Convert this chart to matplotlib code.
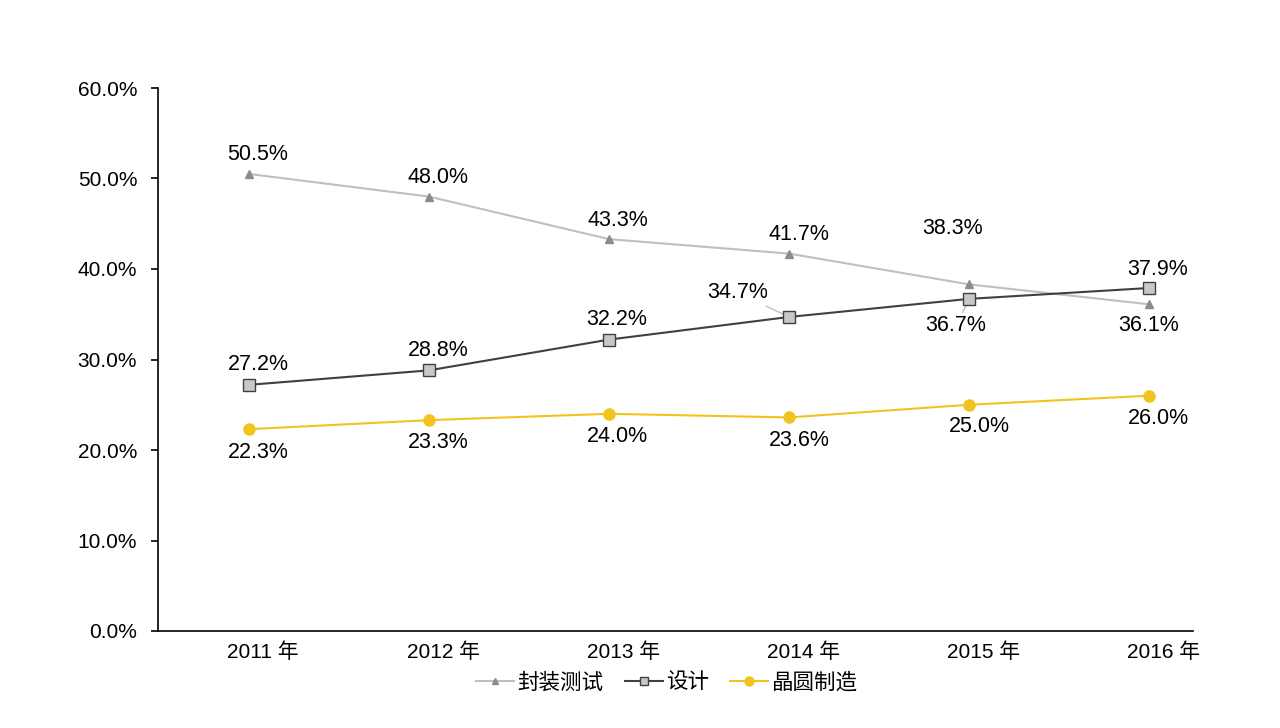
import matplotlib
matplotlib.use("Agg")
import matplotlib.pyplot as plt
import matplotlib.transforms as mtransforms
from matplotlib.ticker import FuncFormatter

plt.rcParams["font.family"] = ["Liberation Sans", "Noto Sans CJK SC"]

# %% Data

years = ["2011 年", "2012 年", "2013 年", "2014 年", "2015 年", "2016 年"]
packaging = [50.5, 48.0, 43.3, 41.7, 38.3, 36.1]   # 封装测试
design = [27.2, 28.8, 32.2, 34.7, 36.7, 37.9]      # 设计
wafer = [22.3, 23.3, 24.0, 23.6, 25.0, 26.0]       # 晶圆制造

# label offsets in pixels (dx, dy), positive dy = up
pack_offsets = [(9, 19), (9, 19), (9, 19), (10, 19), (-17, 56), (0, -21)]
design_offsets = [(9, 20), (9, 20), (8, 20), (-51, 24), (-13, -27), (9, 19)]
wafer_offsets = [(9, -23), (9, -22), (8, -23), (10, -23), (10, -22), (9, -23)]

# %% Plot

fig = plt.figure(figsize=(12.8, 7.28), dpi=100)
ax = fig.add_axes([158 / 1280, 1 - 631 / 728, 1035 / 1280, 543 / 728])

x = list(range(len(years)))
ax.plot(x, packaging, color="#BFBFBF", lw=1.5, marker="^", ms=6,
        mfc="#8C8C8C", mec="#8C8C8C", label="封装测试", zorder=3)
ax.plot(x, design, color="#404040", lw=1.5, marker="s", ms=8,
        mfc="#C8C8C8", mec="#404040", mew=1.0, label="设计", zorder=4)
ax.plot(x, wafer, color="#F2C31C", lw=1.5, marker="o", ms=8,
        mfc="#F2C31C", mec="#F2C31C", label="晶圆制造", zorder=3)

ax.set_xlim(-0.506, 5.244)
ax.set_ylim(0, 60)
ax.set_yticks([0, 10, 20, 30, 40, 50, 60])
ax.yaxis.set_major_formatter(FuncFormatter(lambda v, p: f"{v:.1f}%"))
ax.set_xticks(x)
ax.set_xticklabels(years)

for side in ["top", "right"]:
    ax.spines[side].set_visible(False)
ax.spines["left"].set_linewidth(1.2)
ax.spines["bottom"].set_linewidth(1.2)
ax.tick_params(axis="y", length=5, width=1.2, pad=10, labelsize=15, colors="black")
ax.tick_params(axis="x", length=0, pad=8, labelsize=15)

shift = mtransforms.ScaledTranslation(14 / 100, 0, fig.dpi_scale_trans)
for lbl in ax.get_xticklabels():
    lbl.set_transform(lbl.get_transform() + shift)


def add_labels(values, offsets, leader_idx=()):
    for i, (v, (dx, dy)) in enumerate(zip(values, offsets)):
        arrow = None
        if i in leader_idx:
            arrow = dict(arrowstyle="-", color="#BFBFBF", lw=1.0, shrinkA=0, shrinkB=2)
        ax.annotate(f"{v:.1f}%", xy=(i, v), xytext=(dx, dy),
                    textcoords="offset pixels", ha="center", va="center",
                    fontsize=15.5, color="black", arrowprops=arrow, zorder=2)


add_labels(packaging, pack_offsets)
add_labels(design, design_offsets, leader_idx=(3, 4))
add_labels(wafer, wafer_offsets)

fig.legend(loc="center", bbox_to_anchor=(0.521, 1 - 683 / 728), ncol=3,
           frameon=False, fontsize=15.5, handlelength=1.75, handletextpad=0.15,
           columnspacing=1.0, markerscale=0.8)

fig.savefig("out.png", dpi=100, facecolor="white")
